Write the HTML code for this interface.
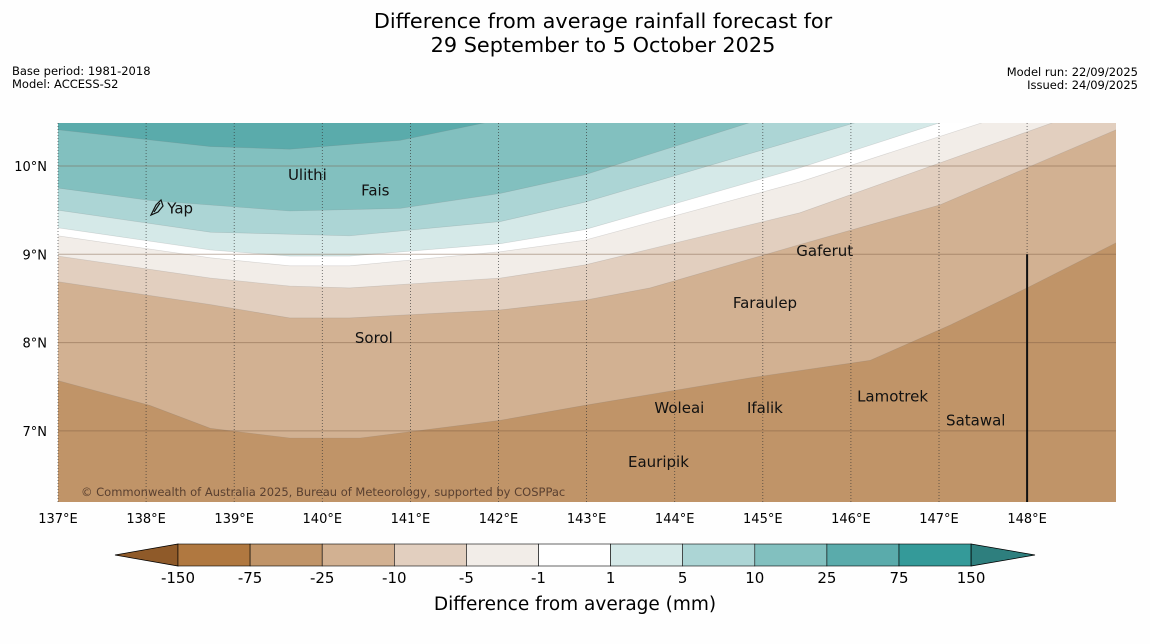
<!DOCTYPE html>
<html><head><meta charset="utf-8">
<style>
body{margin:0;background:#fefefe;font-family:"Liberation Sans","DejaVu Sans",sans-serif;}
svg{display:block}
text{font-family:"DejaVu Sans","Liberation Sans",sans-serif}
</style></head>
<body>
<svg id="chart" width="1150" height="644" viewBox="0 0 1150 644">
  <rect width="1150" height="644" fill="#fefefe"/>
  <text x="603" y="28" font-size="20.8" text-anchor="middle" fill="#000">Difference from average rainfall forecast for</text>
  <text x="603" y="52" font-size="20.8" text-anchor="middle" fill="#000">29 September to 5 October 2025</text>
  <text x="12" y="75" font-size="11.5">Base period: 1981-2018</text>
  <text x="12" y="88" font-size="11.5">Model: ACCESS-S2</text>
  <text x="1138" y="76" font-size="11.5" text-anchor="end">Model run: 22/09/2025</text>
  <text x="1138" y="89" font-size="11.5" text-anchor="end">Issued: 24/09/2025</text>
  <defs><clipPath id="mapclip"><rect x="58" y="123" width="1058" height="379"/></clipPath></defs>
  <g id="map" clip-path="url(#mapclip)"></g>
  <g id="overlay"></g>
  <path d="M151,215 L156,205 L161,200 L163,206 L158,212 Z M154,212 L160,203" fill="none" stroke="#111" stroke-width="1.2"/>
  <g id="cbar"></g>
  <text x="575" y="610" font-size="18.5" text-anchor="middle">Difference from average (mm)</text>
</svg>
<script>
// ---- data ----
const lonTicks = [137,138,139,140,141,142,143,144,145,146,147,148];
const latTicks = [7,8,9,10];
const levels = [-150,-75,-25,-10,-5,-1,1,5,10,25,75,150];
const levelColors = ["#b07840","#c09468","#d2b192","#e2cfbf","#f2ede8","#ffffff","#d5e9e8","#acd5d5","#82c0bf","#5aabab","#349a99"];
const extendLowColor = "#8f5a29";
const extendHighColor = "#2e7f7e";
// contour boundaries (lon, lat); band above boundary gets the next color
const bnd_m25 = [[137,7.57],[138.04,7.29],[138.73,7.03],[139.63,6.92],[140.43,6.92],[142.02,7.12],[142.98,7.29],[144.85,7.6],[146.22,7.8],[147.13,8.2],[148.0,8.62],[149.01,9.13]];
const bnd_m10 = [[137,8.69],[138.73,8.43],[139.63,8.28],[140.31,8.28],[142.02,8.37],[142.98,8.48],[143.72,8.62],[145.42,9.11],[147.01,9.56],[149.01,10.41]];
const bnd_m5 = [[137,8.98],[138.73,8.73],[139.63,8.64],[140.31,8.62],[142.02,8.73],[142.98,8.88],[145.42,9.47],[148.29,10.49],[149.01,10.6]];
const bnd_m1 = [[137,9.21],[138.73,8.96],[139.63,8.87],[140.31,8.87],[142.02,9.03],[142.98,9.16],[145.42,9.82],[147.49,10.49],[149.01,10.9]];
const bnd_p1 = [[137,9.3],[138.73,9.05],[139.63,8.98],[140.31,8.98],[142.02,9.12],[142.98,9.28],[145.42,9.98],[147.01,10.49],[149.01,11.0]];
const bnd_p5 = [[137,9.5],[138.73,9.25],[140.31,9.21],[142.02,9.37],[142.98,9.59],[146.05,10.49],[149.01,11.3]];
const bnd_p10 = [[137,9.75],[138.04,9.61],[139.63,9.49],[140.88,9.52],[142.02,9.69],[142.98,9.9],[144.85,10.49],[149.01,11.6]];
const bnd_p25 = [[137,10.41],[138.73,10.22],[139.63,10.19],[140.88,10.29],[141.85,10.49],[149.01,11.8]];
const islandNames = ["Yap","Ulithi","Fais","Gaferut","Faraulep","Sorol","Woleai","Ifalik","Lamotrek","Satawal","Eauripik"];
const islandLon = [138.24,139.61,140.44,145.38,144.66,140.37,143.77,144.82,146.07,147.08,143.47];
const islandLat = [9.52,9.9,9.72,9.04,8.45,8.05,7.26,7.26,7.39,7.12,6.65];

// ---- scales ----
const X = lon => 58 + (lon-137)*88.1;
const Y = lat => 166 + (10-lat)*88.3;
const NS="http://www.w3.org/2000/svg";
function mk(tag, attrs, parent){const e=document.createElementNS(NS,tag);for(const k in attrs)e.setAttribute(k,attrs[k]);parent.appendChild(e);return e;}
const map=document.getElementById('map'), ov=document.getElementById('overlay'), cb=document.getElementById('cbar');

let base = mk('rect',{x:58,y:123,width:1058,height:379,fill:levelColors[1]},map);


const bands=[[bnd_m25,2,'band-minus25-to-minus10'],[bnd_m10,3,'band-minus10-to-minus5'],[bnd_m5,4,'band-minus5-to-minus1'],[bnd_m1,5,'band-minus1-to-1'],[bnd_p1,6,'band-1-to-5'],[bnd_p5,7,'band-5-to-10'],[bnd_p10,8,'band-10-to-25'],[bnd_p25,9,'band-25-to-75']];
bands.forEach(([b,ci,name])=>{
  let pts=b.map(p=>X(p[0]).toFixed(1)+','+Y(p[1]).toFixed(1));
  pts.push(X(149.5)+','+Y(12), X(136.5)+','+Y(12));
  const e=mk('polygon',{points:pts.join(' '),fill:levelColors[ci],stroke:'rgba(120,120,120,0.25)','stroke-width':0.6},map);
  
  
});
// grid
lonTicks.forEach(l=>{
  const g=mk('line',{x1:X(l),x2:X(l),y1:123,y2:502,stroke:'#333','stroke-width':0.8,'stroke-dasharray':'1,2',opacity:0.8},ov);
  
  
  const t=mk('text',{x:X(l),y:523,'font-size':13,'text-anchor':'middle'},ov);
  t.textContent=l+'°E';
  
  
});
latTicks.forEach(l=>{
  const g=mk('line',{x1:58,x2:1116,y1:Y(l),y2:Y(l),stroke:'#7a5a40','stroke-width':1,opacity:0.45},ov);
  
  
  const t=mk('text',{x:47,y:Y(l)+5,'font-size':13,'text-anchor':'end'},ov);
  t.textContent=l+'°N';
  
  
});
const vl=mk('line',{x1:X(148),x2:X(148),y1:Y(9),y2:502,stroke:'#111','stroke-width':2},ov);


islandNames.forEach((n,i)=>{
  const t=mk('text',{x:X(islandLon[i]),y:Y(islandLat[i])+5,'font-size':15,fill:'#111'},ov);
  t.textContent=n;
  
  
});
const cp=mk('text',{x:81,y:496,'font-size':11.5,fill:'#5a4030'},ov);
cp.textContent='© Commonwealth of Australia 2025, Bureau of Meteorology, supported by COSPPac';



// colorbar
const cx0=178, cw=72.1, cy=544, ch=22;
const lt=mk('polygon',{points:`115,555 ${cx0},${cy} ${cx0},${cy+ch}`,fill:extendLowColor,stroke:'#000','stroke-width':0.8},cb);


levelColors.forEach((c,i)=>{
  const r=mk('rect',{x:cx0+i*cw,y:cy,width:cw,height:ch,fill:c,stroke:'#000','stroke-width':0.6},cb);
  
  
});
const xe=cx0+levelColors.length*cw;
const rt=mk('polygon',{points:`${xe},${cy} 1035,555 ${xe},${cy+ch}`,fill:extendHighColor,stroke:'#000','stroke-width':0.8},cb);


levels.forEach((v,i)=>{
  const t=mk('text',{x:cx0+i*cw,y:583,'font-size':15,'text-anchor':'middle'},cb);
  t.textContent=v;
  
  
});
</script>
</body></html>
